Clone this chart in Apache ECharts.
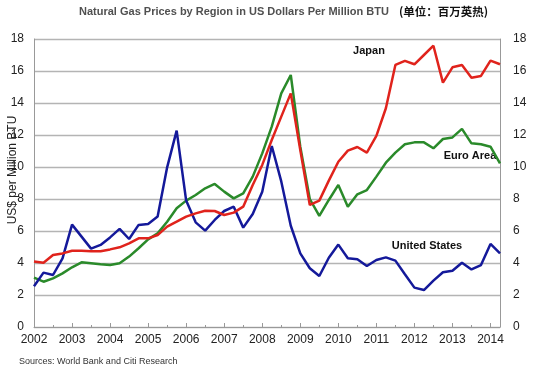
<!DOCTYPE html>
<html>
<head>
<meta charset="utf-8">
<script src="https://cdn.jsdelivr.net/npm/echarts@6/dist/echarts.min.js"></script>
<style>html,body{margin:0;padding:0;background:#fff;}#c{width:535px;height:372px;}</style>
</head>
<body>
<div id="c"></div>
<script>
// Quarterly periods 2002Q1 .. 2014Q2
const firstYear = 2002;
const quarters = [];
for (let y = 2002; y <= 2014; y++) for (let q = 1; q <= 4; q++) { if (y === 2014 && q > 2) break; quarters.push(y + 'Q' + q); }
const yearTicks = ['2002','2003','2004','2005','2006','2007','2008','2009','2010','2011','2012','2013','2014'];
const yTicks = [0,2,4,6,8,10,12,14,16,18];

const japan = [4.1,4.02,4.5,4.6,4.77,4.77,4.73,4.73,4.85,4.98,5.23,5.54,5.54,5.75,6.27,6.58,6.9,7.1,7.27,7.25,7.0,7.15,7.52,8.88,10.13,11.69,13.15,14.6,11.06,7.63,7.9,9.15,10.33,11.02,11.25,10.9,11.94,13.67,16.38,16.63,16.42,17.0,17.58,15.27,16.23,16.38,15.58,15.69,16.65,16.42];
const euroArea = [3.08,2.83,3.04,3.35,3.73,4.04,3.98,3.92,3.88,3.98,4.4,4.92,5.48,5.85,6.58,7.42,7.9,8.25,8.67,8.94,8.46,8.04,8.35,9.4,10.85,12.52,14.6,15.75,11.27,8.0,6.95,7.94,8.88,7.52,8.29,8.56,9.4,10.27,10.9,11.42,11.54,11.54,11.17,11.75,11.85,12.38,11.48,11.42,11.27,10.23];
const unitedStates = [2.55,3.4,3.25,4.29,6.4,5.65,4.9,5.13,5.6,6.13,5.5,6.38,6.44,6.9,9.98,12.27,7.9,6.54,6.02,6.69,7.25,7.52,6.21,7.06,8.46,11.31,9.1,6.33,4.6,3.67,3.19,4.33,5.15,4.3,4.23,3.81,4.19,4.35,4.15,3.3,2.46,2.31,2.9,3.42,3.52,4.02,3.6,3.87,5.19,4.6];

function qToX(s) { const y = parseInt(s.slice(0,4)); const q = parseInt(s.slice(5)); return y + (q - 1) / 4; }
function pairs(vals) { return vals.map((v, i) => [qToX(quarters[i]), v]); }

const FONT = '"Liberation Sans", Arial, sans-serif';
const chart = echarts.init(document.getElementById('c'), null, {renderer: 'canvas'});
const lastX = qToX(quarters[quarters.length - 1]);

chart.setOption({
  animation: false,
  backgroundColor: '#fff',
  title: {
    left: 74, top: -2,
    text: '{a|Natural Gas Prices by Region in US Dollars Per Million BTU}  {b|(单位：百万英热)}',
    textStyle: {
      rich: {
        a: {fontFamily: FONT, fontWeight: 'bold', fontSize: 11, color: '#505050'},
        b: {fontFamily: '"Noto Sans CJK SC", sans-serif', fontWeight: 'bold', fontSize: 11.5, color: '#111'}
      }
    }
  },
  grid: {left: 34, right: 35, top: 39, bottom: 45, show: false},
  xAxis: {
    type: 'value', min: firstYear, max: lastX, interval: 1,
    axisLine: {show: true, lineStyle: {color: '#999', width: 1}},
    axisTick: {show: true, inside: true, length: 4, lineStyle: {color: '#999'}},
    minorTick: {show: true, splitNumber: 2, length: 2, lineStyle: {color: '#999'}},
    splitLine: {show: false},
    axisLabel: {
      color: '#222', fontFamily: FONT, fontSize: 12, margin: 7, showMaxLabel: false,
      formatter: v => (yearTicks.indexOf(String(v)) >= 0 ? String(v) : '')
    }
  },
  yAxis: [
    {
      type: 'value', min: 0, max: 18, interval: 2, position: 'left',
      axisLine: {show: true, lineStyle: {color: '#999', width: 1}},
      axisTick: {show: false},
      splitLine: {show: true, lineStyle: {color: '#b4b4b4', width: 1.3}},
      axisLabel: {color: '#222', fontFamily: FONT, fontSize: 12, margin: 10,
        formatter: v => (yTicks.indexOf(v) >= 0 ? String(v) : '')}
    },
    {
      type: 'value', min: 0, max: 18, interval: 2, position: 'right',
      axisLine: {show: true, lineStyle: {color: '#999', width: 1}},
      axisTick: {show: false},
      splitLine: {show: false},
      axisLabel: {color: '#222', fontFamily: FONT, fontSize: 12, margin: 13,
        formatter: v => (yTicks.indexOf(v) >= 0 ? String(v) : '')}
    }
  ],
  series: [
    {name: 'Euro Area', type: 'line', data: pairs(euroArea), symbol: 'none', lineStyle: {color: '#2a8a2a', width: 2.5}, z: 3},
    {name: 'United States', type: 'line', data: pairs(unitedStates), symbol: 'none', lineStyle: {color: '#14199a', width: 2.5}, z: 4},
    {name: 'Japan', type: 'line', data: pairs(japan), symbol: 'none', lineStyle: {color: '#e0231c', width: 2.5}, z: 5}
  ],
  graphic: [
    {type: 'text', x: 13, y: 170, rotation: Math.PI / 2,
      style: {text: 'US$ per Million BTU', font: '12px ' + FONT, fill: '#222', textAlign: 'center', textVerticalAlign: 'middle'}},
    {type: 'text', x: 369, y: 51, style: {text: 'Japan', font: 'bold 11px ' + FONT, fill: '#111', textAlign: 'center', textVerticalAlign: 'middle'}},
    {type: 'text', x: 470, y: 156, style: {text: 'Euro Area', font: 'bold 11px ' + FONT, fill: '#111', textAlign: 'center', textVerticalAlign: 'middle'}},
    {type: 'text', x: 427, y: 246, style: {text: 'United States', font: 'bold 11px ' + FONT, fill: '#111', textAlign: 'center', textVerticalAlign: 'middle'}},
    {type: 'text', x: 19, y: 362, style: {text: 'Sources: World Bank and Citi Research', font: '9px ' + FONT, fill: '#333', textAlign: 'left', textVerticalAlign: 'middle'}}
  ]
});
</script>
</body>
</html>
